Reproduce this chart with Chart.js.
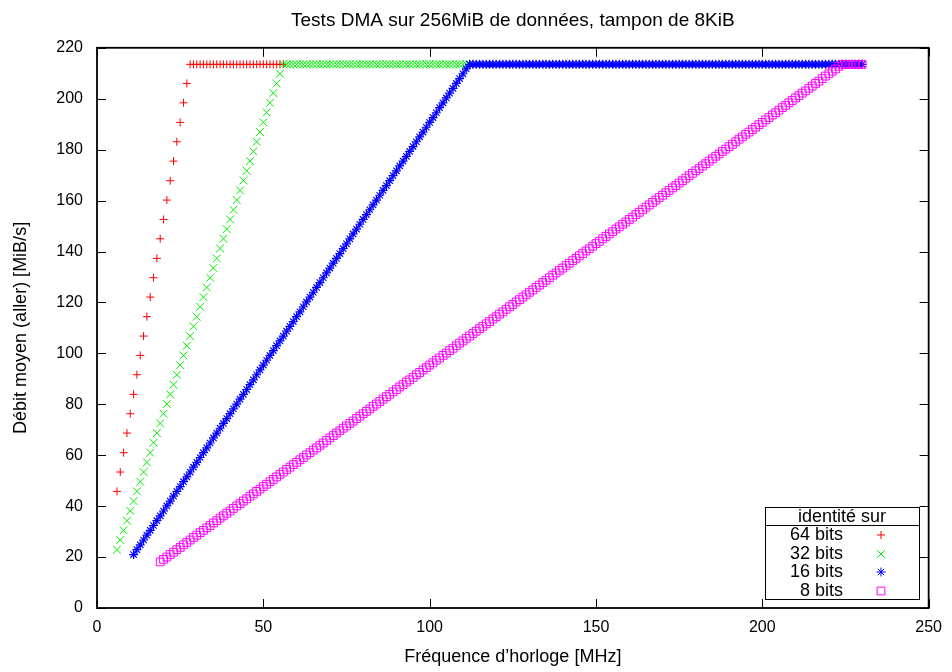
<!DOCTYPE html>
<html>
<head>
<meta charset="utf-8">
<script src="https://cdn.jsdelivr.net/npm/chart.js@4/dist/chart.umd.min.js"></script>
<style>
  html, body { margin: 0; padding: 0; background: #fff; }
  #wrap { width: 952px; height: 672px; }
</style>
</head>
<body>
<div id="wrap"><canvas id="dmaChart" width="952" height="672"></canvas></div>
<script>
// fréquences d'horloge (MHz), une mesure par MHz
const frequences = [
  6, 7, 8, 9, 10, 11, 12, 13, 14, 15,
  16, 17, 18, 19, 20, 21, 22, 23, 24, 25,
  26, 27, 28, 29, 30, 31, 32, 33, 34, 35,
  36, 37, 38, 39, 40, 41, 42, 43, 44, 45,
  46, 47, 48, 49, 50, 51, 52, 53, 54, 55,
  56, 57, 58, 59, 60, 61, 62, 63, 64, 65,
  66, 67, 68, 69, 70, 71, 72, 73, 74, 75,
  76, 77, 78, 79, 80, 81, 82, 83, 84, 85,
  86, 87, 88, 89, 90, 91, 92, 93, 94, 95,
  96, 97, 98, 99, 100, 101, 102, 103, 104, 105,
  106, 107, 108, 109, 110, 111, 112, 113, 114, 115,
  116, 117, 118, 119, 120, 121, 122, 123, 124, 125,
  126, 127, 128, 129, 130, 131, 132, 133, 134, 135,
  136, 137, 138, 139, 140, 141, 142, 143, 144, 145,
  146, 147, 148, 149, 150, 151, 152, 153, 154, 155,
  156, 157, 158, 159, 160, 161, 162, 163, 164, 165,
  166, 167, 168, 169, 170, 171, 172, 173, 174, 175,
  176, 177, 178, 179, 180, 181, 182, 183, 184, 185,
  186, 187, 188, 189, 190, 191, 192, 193, 194, 195,
  196, 197, 198, 199, 200, 201, 202, 203, 204, 205,
  206, 207, 208, 209, 210, 211, 212, 213, 214, 215,
  216, 217, 218, 219, 220, 221, 222, 223, 224, 225,
  226, 227, 228, 229, 230
];

// débit moyen (MiB/s), aligné sur frequences ; null = pas de mesure
const debit64 = [
  45.8, 53.4, 61.0, 68.7, 76.3, 83.9, 91.6, 99.2, 106.8, 114.4,
  122.1, 129.7, 137.3, 145.0, 152.6, 160.2, 167.8, 175.5, 183.1, 190.7,
  198.4, 206.0, 213.5, 213.5, 213.5, 213.5, 213.5, 213.5, 213.5, 213.5,
  213.5, 213.5, 213.5, 213.5, 213.5, 213.5, 213.5, 213.5, 213.5, 213.5,
  213.5, 213.5, 213.5, 213.5, 213.5, 213.5, 213.5, 213.5, 213.5, 213.5,
  213.5
];

const debit32 = [
  22.9, 26.7, 30.5, 34.3, 38.1, 42.0, 45.8, 49.6, 53.4, 57.2,
  61.0, 64.9, 68.7, 72.5, 76.3, 80.1, 83.9, 87.7, 91.6, 95.4,
  99.2, 103.0, 106.8, 110.6, 114.4, 118.3, 122.1, 125.9, 129.7, 133.5,
  137.3, 141.2, 145.0, 148.8, 152.6, 156.4, 160.2, 164.0, 167.9, 171.7,
  175.5, 179.3, 183.1, 186.9, 190.7, 194.6, 198.4, 202.2, 206.0, 209.8,
  213.5, 213.5, 213.5, 213.5, 213.5, 213.5, 213.5, 213.5, 213.5, 213.5,
  213.5, 213.5, 213.5, 213.5, 213.5, 213.5, 213.5, 213.5, 213.5, 213.5,
  213.5, 213.5, 213.5, 213.5, 213.5, 213.5, 213.5, 213.5, 213.5, 213.5,
  213.5, 213.5, 213.5, 213.5, 213.5, 213.5, 213.5, 213.5, 213.5, 213.5,
  213.5, 213.5, 213.5, 213.5, 213.5, 213.5, 213.5, 213.5, 213.5, 213.5,
  213.5, 213.5, 213.5, 213.5, 213.5, 213.5, 213.5
];

const debit16 = [
  null, null, null, null, null, 21.0, 22.9, 24.8, 26.7, 28.6,
  30.5, 32.4, 34.3, 36.2, 38.1, 40.1, 42.0, 43.9, 45.8, 47.7,
  49.6, 51.5, 53.4, 55.3, 57.2, 59.1, 61.0, 62.9, 64.8, 66.8,
  68.7, 70.6, 72.5, 74.4, 76.3, 78.2, 80.1, 82.0, 83.9, 85.8,
  87.7, 89.6, 91.6, 93.5, 95.4, 97.3, 99.2, 101.1, 103.0, 104.9,
  106.8, 108.7, 110.6, 112.5, 114.4, 116.3, 118.3, 120.2, 122.1, 124.0,
  125.9, 127.8, 129.7, 131.6, 133.5, 135.4, 137.3, 139.2, 141.1, 143.0,
  145.0, 146.9, 148.8, 150.7, 152.6, 154.5, 156.4, 158.3, 160.2, 162.1,
  164.0, 165.9, 167.8, 169.8, 171.7, 173.6, 175.5, 177.4, 179.3, 181.2,
  183.1, 185.0, 186.9, 188.8, 190.7, 192.6, 194.5, 196.5, 198.4, 200.3,
  202.2, 204.1, 206.0, 207.9, 209.8, 211.7, 213.5, 213.5, 213.5, 213.5,
  213.5, 213.5, 213.5, 213.5, 213.5, 213.5, 213.5, 213.5, 213.5, 213.5,
  213.5, 213.5, 213.5, 213.5, 213.5, 213.5, 213.5, 213.5, 213.5, 213.5,
  213.5, 213.5, 213.5, 213.5, 213.5, 213.5, 213.5, 213.5, 213.5, 213.5,
  213.5, 213.5, 213.5, 213.5, 213.5, 213.5, 213.5, 213.5, 213.5, 213.5,
  213.5, 213.5, 213.5, 213.5, 213.5, 213.5, 213.5, 213.5, 213.5, 213.5,
  213.5, 213.5, 213.5, 213.5, 213.5, 213.5, 213.5, 213.5, 213.5, 213.5,
  213.5, 213.5, 213.5, 213.5, 213.5, 213.5, 213.5, 213.5, 213.5, 213.5,
  213.5, 213.5, 213.5, 213.5, 213.5, 213.5, 213.5, 213.5, 213.5, 213.5,
  213.5, 213.5, 213.5, 213.5, 213.5, 213.5, 213.5, 213.5, 213.5, 213.5,
  213.5, 213.5, 213.5, 213.5, 213.5, 213.5, 213.5, 213.5, 213.5, 213.5,
  213.5, 213.5, 213.5, 213.5, 213.5, 213.5, 213.5, 213.5, 213.5, 213.5,
  213.5, 213.5, 213.5, 213.5, 213.5
];

const debit8 = [
  null, null, null, null, null, null, null, null, null, null,
  null, null, null, 18.1, 19.1, 20.0, 21.0, 21.9, 22.9, 23.8,
  24.8, 25.7, 26.7, 27.7, 28.6, 29.6, 30.5, 31.5, 32.4, 33.4,
  34.3, 35.3, 36.2, 37.2, 38.1, 39.1, 40.1, 41.0, 42.0, 42.9,
  43.9, 44.8, 45.8, 46.7, 47.7, 48.6, 49.6, 50.5, 51.5, 52.5,
  53.4, 54.4, 55.3, 56.3, 57.2, 58.2, 59.1, 60.1, 61.0, 62.0,
  62.9, 63.9, 64.8, 65.8, 66.8, 67.7, 68.7, 69.6, 70.6, 71.5,
  72.5, 73.4, 74.4, 75.3, 76.3, 77.2, 78.2, 79.2, 80.1, 81.1,
  82.0, 83.0, 83.9, 84.9, 85.8, 86.8, 87.7, 88.7, 89.6, 90.6,
  91.6, 92.5, 93.5, 94.4, 95.4, 96.3, 97.3, 98.2, 99.2, 100.1,
  101.1, 102.0, 103.0, 104.0, 104.9, 105.9, 106.8, 107.8, 108.7, 109.7,
  110.6, 111.6, 112.5, 113.5, 114.4, 115.4, 116.3, 117.3, 118.3, 119.2,
  120.2, 121.1, 122.1, 123.0, 124.0, 124.9, 125.9, 126.8, 127.8, 128.7,
  129.7, 130.7, 131.6, 132.6, 133.5, 134.5, 135.4, 136.4, 137.3, 138.3,
  139.2, 140.2, 141.1, 142.1, 143.1, 144.0, 145.0, 145.9, 146.9, 147.8,
  148.8, 149.7, 150.7, 151.6, 152.6, 153.5, 154.5, 155.4, 156.4, 157.4,
  158.3, 159.3, 160.2, 161.2, 162.1, 163.1, 164.0, 165.0, 165.9, 166.9,
  167.8, 168.8, 169.8, 170.7, 171.7, 172.6, 173.6, 174.5, 175.5, 176.4,
  177.4, 178.3, 179.3, 180.2, 181.2, 182.1, 183.1, 184.1, 185.0, 186.0,
  186.9, 187.9, 188.8, 189.8, 190.7, 191.7, 192.6, 193.6, 194.5, 195.5,
  196.5, 197.4, 198.4, 199.3, 200.3, 201.2, 202.2, 203.1, 204.1, 205.0,
  206.0, 206.9, 207.9, 208.9, 209.8, 210.8, 211.7, 212.7, 213.5, 213.5,
  213.5, 213.5, 213.5, 213.5, 213.5
];

const legendTitle = 'identité sur';
const seriesLabels = ['64 bits', '32 bits', '16 bits', '8 bits'];

const FONT = "'Liberation Sans', Arial, Helvetica, sans-serif";

function toPoints(values) {
    const pts = [];
    values.forEach((v, i) => {
        if (v !== null) pts.push({ x: frequences[i], y: v });
    });
    return pts;
}

// cadre façon gnuplot, graduations vers l'intérieur sur les 4 côtés
const framePlugin = {
    id: 'frame',
    afterDraw(chart) {
        const ctx = chart.ctx;
        const a = chart.chartArea;
        const xs = chart.scales.x, ys = chart.scales.y;
        const tl = 9;
        ctx.save();
        ctx.strokeStyle = '#000';
        ctx.lineWidth = 1;
        ctx.beginPath();
        xs.ticks.forEach(t => {
            const px = Math.round(xs.getPixelForValue(t.value)) + 0.5;
            ctx.moveTo(px, a.bottom); ctx.lineTo(px, a.bottom - tl);
            ctx.moveTo(px, a.top); ctx.lineTo(px, a.top + tl);
        });
        ys.ticks.forEach(t => {
            const py = Math.round(ys.getPixelForValue(t.value)) + 0.5;
            ctx.moveTo(a.left, py); ctx.lineTo(a.left + tl, py);
            ctx.moveTo(a.right, py); ctx.lineTo(a.right - tl, py);
        });
        ctx.stroke();
        ctx.lineWidth = 1.8;
        ctx.strokeRect(a.left, a.top, a.right - a.left, a.bottom - a.top);
        ctx.restore();
    }
};

// légende encadrée avec titre
const legendPlugin = {
    id: 'boxLegend',
    afterDraw(chart) {
        const ctx = chart.ctx;
        const left = 765, top = 507, right = 919, bottom = 599;
        ctx.save();
        ctx.fillStyle = '#fff';
        ctx.fillRect(left, top, right - left, bottom - top);
        ctx.strokeStyle = '#000';
        ctx.lineWidth = 1;
        ctx.strokeRect(left + 0.5, top + 0.5, right - left, bottom - top);
        ctx.beginPath();
        ctx.moveTo(left, top + 18.5); ctx.lineTo(right, top + 18.5);
        ctx.stroke();
        ctx.fillStyle = '#000';
        ctx.font = '18px ' + FONT;
        ctx.textBaseline = 'middle';
        ctx.textAlign = 'center';
        ctx.fillText(legendTitle, 842, top + 10);
        ctx.textAlign = 'right';
        const rows = [535, 554, 572, 591];
        seriesLabels.forEach((lbl, i) => {
            const ds = chart.data.datasets.find(d => d.label === lbl);
            ctx.fillStyle = '#000';
            ctx.fillText(lbl, 843, rows[i]);
            ctx.strokeStyle = ds.borderColor;
            ctx.fillStyle = 'rgba(0,0,0,0)';
            ctx.lineWidth = 1;
            Chart.helpers.drawPoint(ctx, {
                pointStyle: ds.pointStyle,
                radius: ds.pointRadius,
                rotation: 0,
                borderWidth: 1
            }, 881, rows[i]);
        });
        ctx.restore();
    }
};

const ctx = document.getElementById('dmaChart').getContext('2d');

new Chart(ctx, {
    type: 'scatter',
    data: {
        datasets: [{
            label: '64 bits',
            data: toPoints(debit64),
            pointStyle: 'cross',
            pointRadius: 4,
            borderColor: '#ff0000',
            backgroundColor: 'rgba(0,0,0,0)',
            borderWidth: 1,
            order: 3
        }, {
            label: '32 bits',
            data: toPoints(debit32),
            pointStyle: 'crossRot',
            pointRadius: 5.5,
            borderColor: '#00ee00',
            backgroundColor: 'rgba(0,0,0,0)',
            borderWidth: 1,
            order: 2
        }, {
            label: '16 bits',
            data: toPoints(debit16),
            pointStyle: 'star',
            pointRadius: 4.5,
            borderColor: '#0000ff',
            backgroundColor: 'rgba(0,0,0,0)',
            borderWidth: 1.2,
            order: 1
        }, {
            label: '8 bits',
            data: toPoints(debit8),
            pointStyle: 'rect',
            pointRadius: 5.5,
            borderColor: '#ff00ff',
            backgroundColor: 'rgba(0,0,0,0)',
            borderWidth: 1,
            order: 0
        }]
    },
    options: {
        responsive: false,
        animation: false,
        layout: { padding: { left: 5, right: 22, top: 0, bottom: 0 } },
        plugins: {
            legend: { display: false },
            tooltip: { enabled: false },
            title: {
                display: true,
                text: 'Tests DMA sur 256MiB de données, tampon de 8KiB',
                fullSize: false,
                color: '#000',
                font: { family: FONT, size: 19, weight: 'normal' },
                padding: { top: 9, bottom: 16 }
            }
        },
        scales: {
            x: {
                type: 'linear',
                min: 0,
                max: 250,
                afterFit: s => { s.height = 64; },
                grid: { display: false, drawTicks: false },
                border: { display: false },
                ticks: {
                    stepSize: 50,
                    color: '#000',
                    padding: 10,
                    maxRotation: 0,
                    font: { family: FONT, size: 16 }
                },
                title: {
                    display: true,
                    text: 'Fréquence d’horloge [MHz]',
                    color: '#000',
                    font: { family: FONT, size: 18 },
                    padding: { top: 4, bottom: 4 }
                }
            },
            y: {
                type: 'linear',
                min: 0,
                max: 220,
                afterFit: s => { s.width = 92; },
                grid: { display: false, drawTicks: false },
                border: { display: false },
                ticks: {
                    stepSize: 20,
                    color: '#000',
                    padding: 14,
                    font: { family: FONT, size: 16 }
                },
                title: {
                    display: true,
                    text: 'Débit moyen (aller) [MiB/s]',
                    color: '#000',
                    font: { family: FONT, size: 18 },
                    padding: { top: 5, bottom: 5 }
                }
            }
        }
    },
    plugins: [framePlugin, legendPlugin]
});
</script>
</body>
</html>
